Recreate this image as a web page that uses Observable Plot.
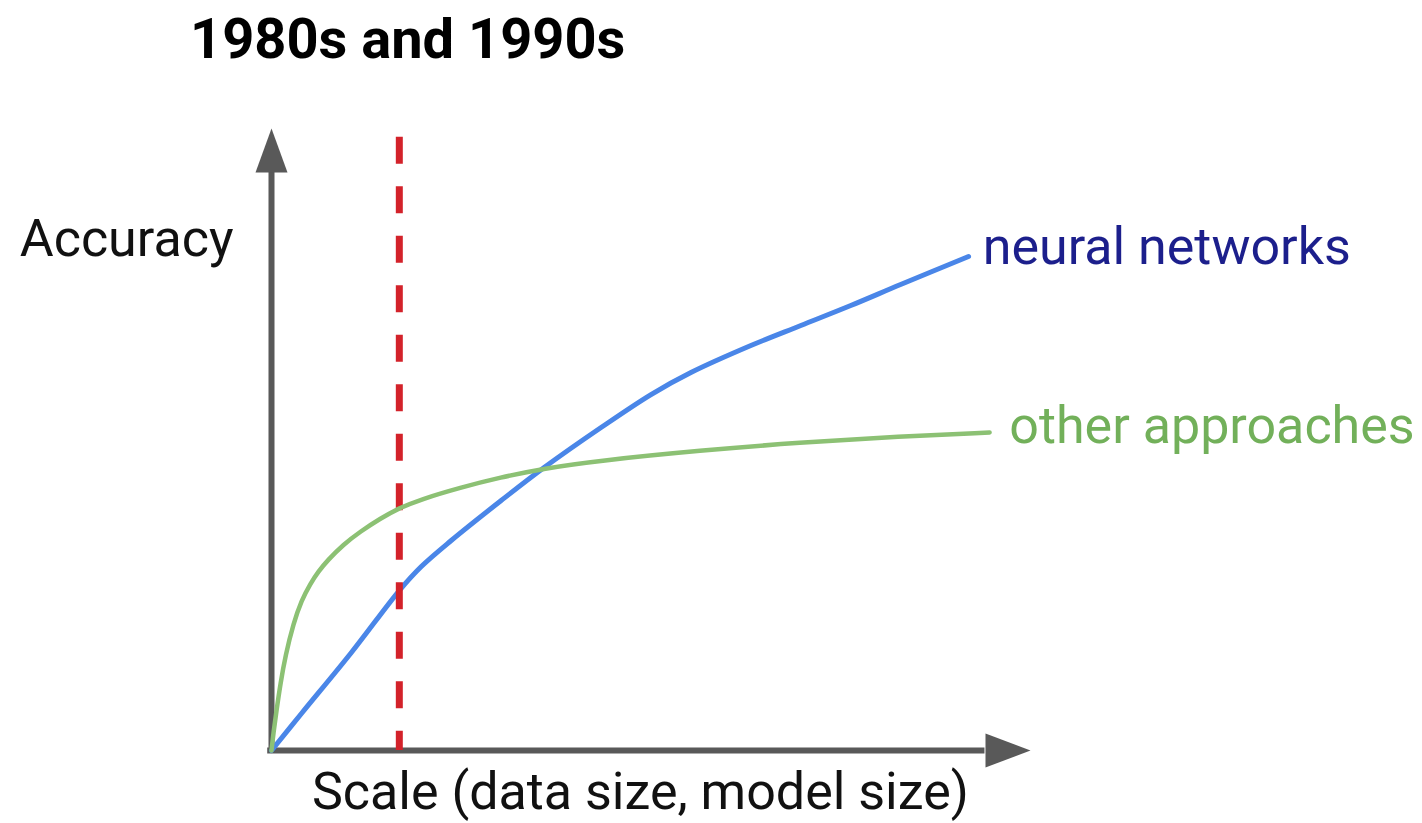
<!DOCTYPE html>
<html>
<head>
<meta charset="utf-8">
<script src="https://cdn.jsdelivr.net/npm/d3@7"></script>
<script src="https://cdn.jsdelivr.net/npm/@observablehq/plot@0.6"></script>
<style>
  html, body { margin: 0; padding: 0; background: #fff; }
  #title {
    height: 90px; box-sizing: border-box;
    padding-top: 11px; padding-left: 190px;
    font: 700 56px/56px Roboto, "Open Sans", sans-serif;
    color: #000;
  }
  #chart svg { display: block; font-family: Roboto, "Open Sans", sans-serif; }
</style>
</head>
<body>
<div id="title">1980s and 1990s</div>
<div id="chart"></div>
<script>
// Neural networks curve (x = scale, y = accuracy)
const nnX = [0, 3.95, 10.53, 16.84, 19.74, 23.68, 30.26, 35.92, 43.42, 50.0, 55.26, 63.16, 69.74, 76.32, 82.89, 91.84];
const nnY = [0, 5.95, 15.76, 25.72, 29.58, 33.76, 40.19, 45.5, 51.93, 57.23, 60.77, 65.11, 68.33, 71.54, 74.92, 79.42];
// Other approaches curve
const otX = [0, 0, 0.26, 0.66, 1.18, 1.84, 2.89, 3.95, 5.13, 6.18, 7.37, 9.47, 11.71, 14.34, 16.71, 19.61, 24.87, 30.13, 35.79, 43.29, 56.45, 69.61, 82.76, 94.61, 94.61];
const otY = [0, 0, 2.89, 6.43, 10.77, 15.27, 20.42, 24.12, 26.85, 28.78, 30.55, 33.12, 35.21, 37.3, 38.91, 40.35, 42.28, 43.89, 45.34, 46.62, 48.23, 49.52, 50.48, 51.13, 51.13];
// Era boundary (vertical dashed line)
const eraX = [16.84];
const eraTop = [98.6];
// Axis arrows
const axisTop = [100];
const axisRight = [100];
const axisLineTop = [93];
const axisLineRight = [94];
// Labels
const seriesLabels = ["neural networks", "other approaches"];
const axisLabels = ["Accuracy", "Scale (data size, model size)"];

const nn = nnX.map((x, i) => ({x, y: nnY[i]}));
const ot = otX.map((x, i) => ({x, y: otY[i]}));

const upHead = {draw(ctx) { ctx.moveTo(0, 0); ctx.lineTo(16, 44); ctx.lineTo(-16, 44); ctx.closePath(); }};
const rightHead = {draw(ctx) { ctx.moveTo(0, 0); ctx.lineTo(-45, -17); ctx.lineTo(-45, 17); ctx.closePath(); }};

const axisColor = "#595959";

const chart = Plot.plot({
  width: 1422,
  height: 733,
  marginLeft: 271,
  marginRight: 392,
  marginTop: 38,
  marginBottom: 73,
  x: {domain: [0, 100], axis: null},
  y: {domain: [0, 100], axis: null},
  marks: [
    Plot.ruleX([0], {y1: 0, y2: axisLineTop[0], stroke: axisColor, strokeWidth: 6}),
    Plot.ruleY([0], {x1: -0.5, x2: axisLineRight[0], stroke: axisColor, strokeWidth: 6}),
    Plot.dot([{x: 0, y: axisTop[0]}], {x: "x", y: "y", symbol: upHead, fill: axisColor, stroke: "none"}),
    Plot.dot([{x: axisRight[0], y: 0}], {x: "x", y: "y", symbol: rightHead, fill: axisColor, stroke: "none"}),
    Plot.line(nn, {x: "x", y: "y", stroke: "#4a86e8", strokeWidth: 5, curve: "catmull-rom"}),
    Plot.ruleX(eraX, {y1: eraTop[0], y2: 0, stroke: "#d3222a", strokeWidth: 7, strokeDasharray: "27,22.5"}),
    Plot.line(ot, {x: "x", y: "y", stroke: "#8cc174", strokeWidth: 4.5, curve: "basis"}),
    Plot.text([seriesLabels[0]], {x: 93.7, y: 80.9, text: d => d, textAnchor: "start", fontSize: 52, fill: "#1c1f8c"}),
    Plot.text([seriesLabels[1]], {x: 97.2, y: 52.1, text: d => d, textAnchor: "start", fontSize: 52, fill: "#72b05a"}),
    Plot.text([axisLabels[0]], {x: 0, y: 82.2, dx: -38, text: d => d, textAnchor: "end", fontSize: 52, fill: "#111"}),
    Plot.text([axisLabels[1]], {x: 48.6, y: -6.75, text: d => d, textAnchor: "middle", fontSize: 52, fill: "#111"})
  ]
});
document.getElementById("chart").appendChild(chart);
</script>
</body>
</html>
